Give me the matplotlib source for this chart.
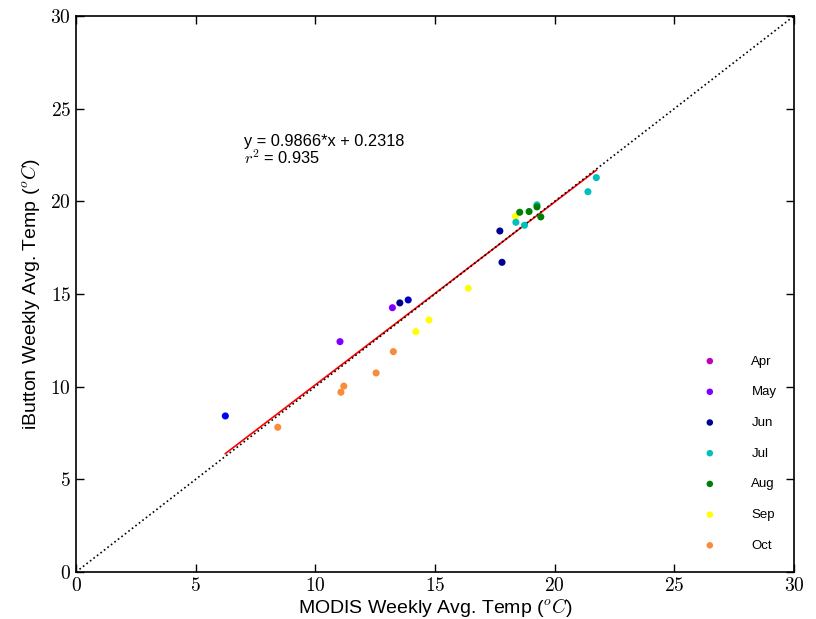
import matplotlib
matplotlib.use("Agg")
import matplotlib.pyplot as plt
import numpy as np

plt.rcParams['font.family'] = ['Liberation Sans', 'DejaVu Sans']
plt.rcParams['mathtext.fontset'] = 'cm'

# Data (MODIS vs iButton weekly average temperatures)
modis = [6.24, 8.43, 11.03, 11.07, 11.19, 12.54, 13.22, 13.26, 13.53, 13.88,
         14.20, 14.75, 16.39, 17.71, 17.80, 18.36, 18.38, 18.54, 18.74, 18.93,
         19.26, 19.26, 19.42, 21.39, 21.74]
ibutton = [8.42, 7.81, 12.43, 9.70, 10.03, 10.74, 14.26, 11.89, 14.52, 14.68,
           12.97, 13.60, 15.31, 18.40, 16.71, 19.19, 18.87, 19.41, 18.71, 19.45,
           19.81, 19.70, 19.16, 20.52, 21.28]
point_colors = ['#0000ff', '#f98c3a', '#7f00ff', '#f98c3a', '#f98c3a', '#f98c3a',
                '#7f00ff', '#f98c3a', '#000090', '#0000c0',
                '#ffff00', '#ffff00', '#ffff00', '#000090', '#000090', '#ffff00',
                '#00bfbf', '#008000', '#00bfbf', '#008000',
                '#00bfbf', '#008000', '#008000', '#00bfbf', '#00bfbf']

months = ['Apr', 'May', 'Jun', 'Jul', 'Aug', 'Sep', 'Oct']
month_colors = ['#bf00bf', '#7f00ff', '#000090', '#00bfbf', '#008000', '#ffff00', '#f98c3a']

slope = 0.9866
intercept = 0.2318
r2 = 0.935
ticks = [0, 5, 10, 15, 20, 25, 30]

fig = plt.figure(figsize=(8.16, 6.19), dpi=100)
ax = fig.add_axes([76/816, 1 - 572/619, 718/816, 556/619])

x_fit = np.array([min(modis), max(modis)])
ax.plot(x_fit, slope * x_fit + intercept, color='red', lw=1.2, zorder=2)
ax.plot([0, 30], [0, 30], color='black', ls=':', lw=1.2, zorder=3)

ax.scatter(modis, ibutton, c=point_colors, s=26, edgecolors='none', zorder=4)

handles = []
for m, c in zip(months, month_colors):
    h = ax.scatter([], [], color=c, s=22, edgecolors='none', label=m)
    handles.append(h)

leg = ax.legend(handles=handles, loc='lower right', bbox_to_anchor=(0.992, 0.015),
                frameon=False, scatterpoints=1, fontsize=9.5, labelspacing=1.40,
                handlelength=1.0, handletextpad=2.65)

ax.text(7.0, 22.75, 'y = %.4f*x + %.4f\n$r^2$ = %.3f' % (slope, intercept, r2),
        fontsize=11.8, va='center', ha='left', linespacing=0.95)

ax.set_xlim(0, 30)
ax.set_ylim(0, 30)
ax.set_xticks(ticks)
ax.set_yticks(ticks)
ax.set_xticklabels(['$%d$' % t for t in ticks], fontsize=14)
ax.set_yticklabels(['$%d$' % t for t in ticks], fontsize=14)
ax.tick_params(direction='in', top=True, right=True, length=6, width=1)
for s in ax.spines.values():
    s.set_linewidth(1.2)

ax.set_xlabel('MODIS Weekly Avg. Temp ($^oC$)', fontsize=14, labelpad=1)
ax.set_ylabel('iButton Weekly Avg. Temp ($^oC$)', fontsize=14, labelpad=6)

fig.savefig('out.png', dpi=100)
